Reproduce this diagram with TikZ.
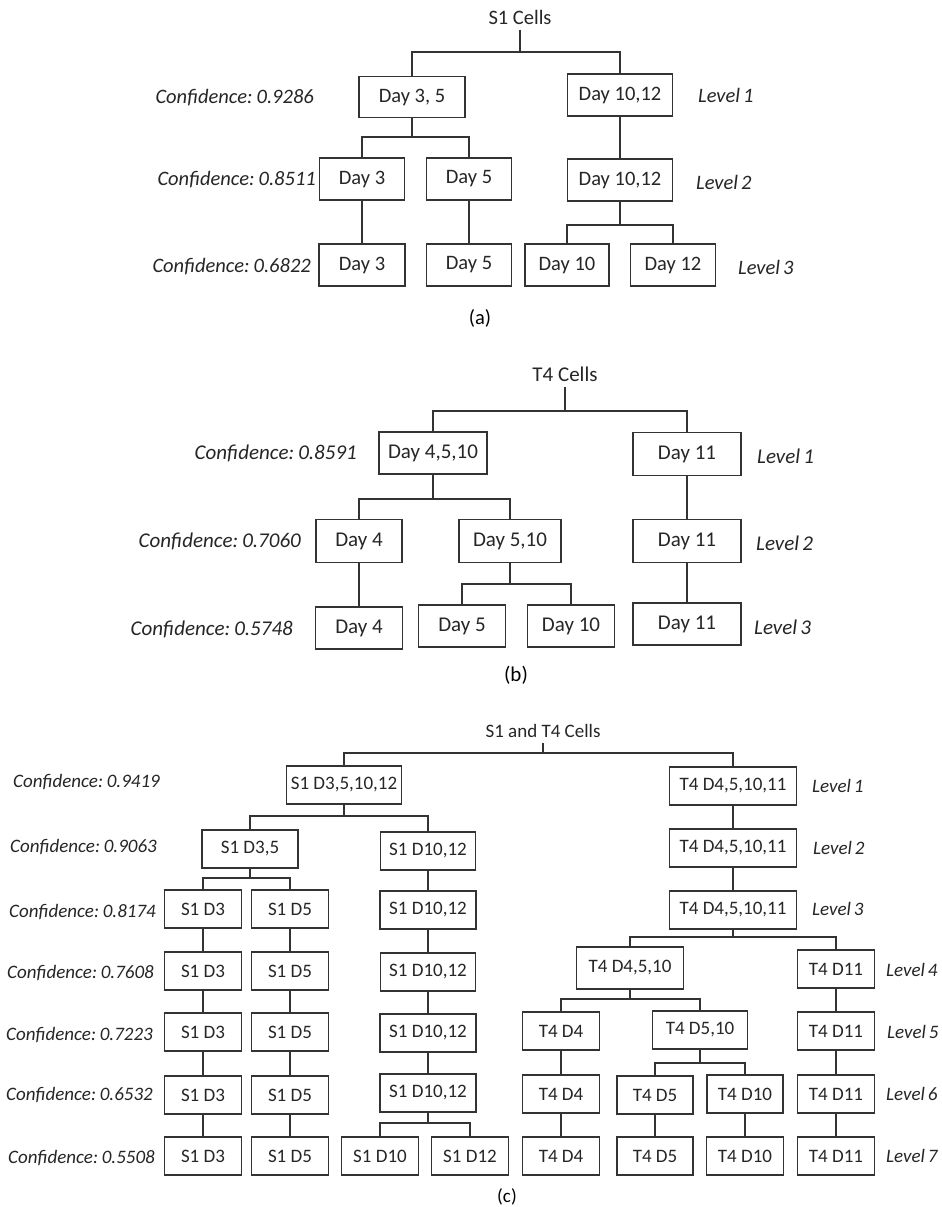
\documentclass[tikz,border=0pt]{standalone}
\usepackage{fontspec}
\setmainfont{Carlito}
\newcommand{\confshape}{\itshape\spaceskip=0.12em\relax}
\newcommand{\lvlshape}{\itshape\spaceskip=0.15em\relax}

\begin{document}
\begin{tikzpicture}[x=1pt, y=-1pt,
        link/.style = {draw=black!80, line width=1.3pt},
        box/.style = {draw=black!80, line width=1.5pt, inner sep=0pt,
          minimum height=42pt, text=black!85},
        conf/.style = {anchor=east, inner sep=0pt, text=black!85,
          execute at begin node=\confshape},
        lvl/.style = {anchor=west, inner sep=0pt, text=black!85,
          execute at begin node=\lvlshape},
        title/.style = {inner sep=0pt, outer sep=6pt, text=black!85}]
      \path[fill=white] (0,0) rectangle (942,1207);
      \useasboundingbox (0,0) rectangle (942,1207);

      \begin{scope}[font=\fontsize{20.5}{24}\selectfont]
        \node[title] (ta) at (520,17) {S1 Cells};
        \node[box, minimum width=106pt, minimum height=41pt] (a1l) at (412,97) {Day 3, 5};
        \node[box, minimum width=105pt] (a1r) at (620,95) {Day 10,12};
        \node[box, minimum width=85pt] (a2a) at (362,179) {Day 3};
        \node[box, minimum width=85pt] (a2b) at (469,179) {Day 5};
        \node[box, minimum width=105pt] (a2r) at (620,180) {Day 10,12};
        \node[box, minimum width=86pt] (a3a) at (362,265) {Day 3};
        \node[box, minimum width=85pt] (a3b) at (469,265) {Day 5};
        \node[box, minimum width=84pt] (a3c) at (567,265) {Day 10};
        \node[box, minimum width=85pt] (a3d) at (673,265) {Day 12};
        \node[conf] (ca1) at (314,98) {Confidence: 0.9286};
        \node[conf] (ca2) at (316,180) {Confidence: 0.8511};
        \node[conf] (ca3) at (311,267) {Confidence: 0.6822};
        \node[lvl] (la1) at (698,95) {Level 1};
        \node[lvl] (la2) at (696,182) {Level 2};
        \node[lvl] (la3) at (738,267) {Level 3};
        \node (cap-a) at (480,318) {(a)};
        \draw[link] (ta) -- ++(0,35) coordinate (ta-j);
        \draw[link] (a1l.north) |- (ta-j) -| (a1r.north);
        \draw[link] (a1l) -- ++(0,40) coordinate (a1l-j);
        \draw[link] (a2a.north) |- (a1l-j) -| (a2b.north);
        \draw[link] (a2a) -- (a3a);
        \draw[link] (a2b) -- (a3b);
        \draw[link] (a1r) -- (a2r);
        \draw[link] (a2r) -- ++(0,45) coordinate (a2r-j);
        \draw[link] (a3c.north) |- (a2r-j) -| (a3d.north);
      \end{scope}

      \begin{scope}[font=\fontsize{21}{25}\selectfont]
        \node[title] (tb) at (565,374) {T4 Cells};
        \node[box, minimum width=108pt] (b1l) at (433,453) {Day 4,5,10};
        \node[box, minimum width=108pt, minimum height=43pt] (b1r) at (687,454) {Day 11};
        \node[box, minimum width=86pt, minimum height=43pt] (b2a) at (359,541) {Day 4};
        \node[box, minimum width=102pt, minimum height=43pt] (b2b) at (510,541) {Day 5,10};
        \node[box, minimum width=108pt, minimum height=43pt] (b2r) at (687,541) {Day 11};
        \node[box, minimum width=87pt] (b3a) at (359,628) {Day 4};
        \node[box, minimum width=87pt] (b3b) at (462,626) {Day 5};
        \node[box, minimum width=87pt] (b3c) at (571,626) {Day 10};
        \node[box, minimum width=108pt] (b3r) at (687,624) {Day 11};
        \node[conf] (cb1) at (357,453) {Confidence: 0.8591};
        \node[conf] (cb2) at (301,541) {Confidence: 0.7060};
        \node[conf] (cb3) at (293,629) {Confidence: 0.5748};
        \node[lvl] (lb1) at (757,456) {Level 1};
        \node[lvl] (lb2) at (756,543) {Level 2};
        \node[lvl] (lb3) at (754,627) {Level 3};
        \node (cap-b) at (516,675) {(b)};
        \draw[link] (tb) -- ++(0,37) coordinate (tb-j);
        \draw[link] (b1l.north) |- (tb-j) -| (b1r.north);
        \draw[link] (b1l) -- ++(0,46) coordinate (b1l-j);
        \draw[link] (b2a.north) |- (b1l-j) -| (b2b.north);
        \draw[link] (b2a) -- (b3a);
        \draw[link] (b1r) -- (b2r);
        \draw[link] (b2r) -- (b3r);
        \draw[link] (b2b) -- ++(0,43) coordinate (b2b-j);
        \draw[link] (b3b.north) |- (b2b-j) -| (b3c.north);
      \end{scope}

      \begin{scope}[font=\fontsize{19}{23}\selectfont, box/.append style={minimum height=38pt}]
        \node[title, outer sep=5pt] (tc) at (543,731) {S1 and T4 Cells};
        \node[box, minimum width=115pt] (c1s) at (344,785) {S1 D3,5,10,12};
        \node[box, minimum width=127pt] (c1t) at (733,786) {T4 D4,5,10,11};
        \node[box, minimum width=96pt] (c2s) at (250,849) {S1 D3,5};
        \node[box, minimum width=95pt] (c2m) at (428,851) {S1 D10,12};
        \node[box, minimum width=127pt] (c2t) at (733,848) {T4 D4,5,10,11};
        \node[box, minimum width=77pt] (c3a) at (203,909) {S1 D3};
        \node[box, minimum width=77pt] (c3b) at (290,909) {S1 D5};
        \node[box, minimum width=96pt] (c3m) at (428,910) {S1 D10,12};
        \node[box, minimum width=127pt] (c3t) at (733,910) {T4 D4,5,10,11};
        \node[box, minimum width=77pt] (c4a) at (203,971) {S1 D3};
        \node[box, minimum width=77pt] (c4b) at (290,971) {S1 D5};
        \node[box, minimum width=95pt] (c4m) at (428,972) {S1 D10,12};
        \node[box, minimum width=107pt, minimum height=42pt] (c4t) at (630,968) {T4 D4,5,10};
        \node[box, minimum width=77pt] (c4u) at (836,969) {T4 D11};
        \node[box, minimum width=77pt] (c5a) at (203,1032) {S1 D3};
        \node[box, minimum width=77pt] (c5b) at (290,1032) {S1 D5};
        \node[box, minimum width=96pt] (c5m) at (428,1033) {S1 D10,12};
        \node[box, minimum width=77pt] (c5t) at (561,1031) {T4 D4};
        \node[box, minimum width=95pt] (c5v) at (700,1030) {T4 D5,10};
        \node[box, minimum width=77pt] (c5u) at (836,1031) {T4 D11};
        \node[box, minimum width=77pt] (c6a) at (203,1095) {S1 D3};
        \node[box, minimum width=77pt] (c6b) at (290,1095) {S1 D5};
        \node[box, minimum width=96pt] (c6m) at (428,1093) {S1 D10,12};
        \node[box, minimum width=77pt] (c6t) at (561,1094) {T4 D4};
        \node[box, minimum width=76pt] (c6v) at (655,1095) {T4 D5};
        \node[box, minimum width=76pt] (c6w) at (745,1094) {T4 D10};
        \node[box, minimum width=77pt] (c6u) at (836,1094) {T4 D11};
        \node[box, minimum width=77pt] (c7a) at (203,1156) {S1 D3};
        \node[box, minimum width=77pt] (c7b) at (290,1156) {S1 D5};
        \node[box, minimum width=77pt] (c7c) at (380,1156) {S1 D10};
        \node[box, minimum width=77pt] (c7d) at (470,1156) {S1 D12};
        \node[box, minimum width=77pt] (c7t) at (561,1156) {T4 D4};
        \node[box, minimum width=76pt] (c7v) at (655,1156) {T4 D5};
        \node[box, minimum width=77pt] (c7w) at (745,1156) {T4 D10};
        \node[box, minimum width=77pt] (c7u) at (836,1156) {T4 D11};
        \node[conf] (cc1) at (160,782) {Confidence: 0.9419};
        \node[conf] (cc2) at (157,847) {Confidence: 0.9063};
        \node[conf] (cc3) at (156,912) {Confidence: 0.8174};
        \node[conf] (cc4) at (154,973) {Confidence: 0.7608};
        \node[conf] (cc5) at (153,1035) {Confidence: 0.7223};
        \node[conf] (cc6) at (153,1095) {Confidence: 0.6532};
        \node[conf] (cc7) at (155,1158) {Confidence: 0.5508};
        \node[lvl] (lc1) at (812,786) {Level 1};
        \node[lvl] (lc2) at (813,848) {Level 2};
        \node[lvl] (lc3) at (812,909) {Level 3};
        \node[lvl] (lc4) at (886,970) {Level 4};
        \node[lvl] (lc5) at (887,1032) {Level 5};
        \node[lvl] (lc6) at (886,1094) {Level 6};
        \node[lvl] (lc7) at (886,1156) {Level 7};
        \node (cap-c) at (507,1197) {(c)};
        \draw[link] (tc) -- ++(0,22) coordinate (tc-j);
        \draw[link] (c1s.north) |- (tc-j) -| (c1t.north);
        \draw[link] (c1s) -- ++(0,31) coordinate (c1s-j);
        \draw[link] (c2s.north) |- (c1s-j) -| (c2m.north);
        \draw[link] (c2s) -- ++(0,29) coordinate (c2s-j);
        \draw[link] (c3a.north) |- (c2s-j) -| (c3b.north);
        \draw[link] (c1t) -- (c2t);
        \draw[link] (c2t) -- (c3t);
        \draw[link] (c3t) -- ++(0,27) coordinate (c3t-j);
        \draw[link] (c4t.north) |- (c3t-j) -| (c4u.north);
        \draw[link] (c4t) -- ++(0,31) coordinate (c4t-j);
        \draw[link] (c5t.north) |- (c4t-j) -| (c5v.north);
        \draw[link] (c5v) -- ++(0,33) coordinate (c5v-j);
        \draw[link] (c6v.north) |- (c5v-j) -| (c6w.north);
        \draw[link] (c6m) -- ++(0,30) coordinate (c6m-j);
        \draw[link] (c7c.north) |- (c6m-j) -| (c7d.north);
        \draw[link] (c2m) -- (c3m);
        \draw[link] (c3m) -- (c4m);
        \draw[link] (c4m) -- (c5m);
        \draw[link] (c5m) -- (c6m);
        \draw[link] (c3a) -- (c4a);
        \draw[link] (c4a) -- (c5a);
        \draw[link] (c5a) -- (c6a);
        \draw[link] (c6a) -- (c7a);
        \draw[link] (c3b) -- (c4b);
        \draw[link] (c4b) -- (c5b);
        \draw[link] (c5b) -- (c6b);
        \draw[link] (c6b) -- (c7b);
        \draw[link] (c5t) -- (c6t);
        \draw[link] (c6t) -- (c7t);
        \draw[link] (c6v) -- (c7v);
        \draw[link] (c6w) -- (c7w);
        \draw[link] (c4u) -- (c5u);
        \draw[link] (c5u) -- (c6u);
        \draw[link] (c6u) -- (c7u);
      \end{scope}
    \end{tikzpicture}
\end{document}
